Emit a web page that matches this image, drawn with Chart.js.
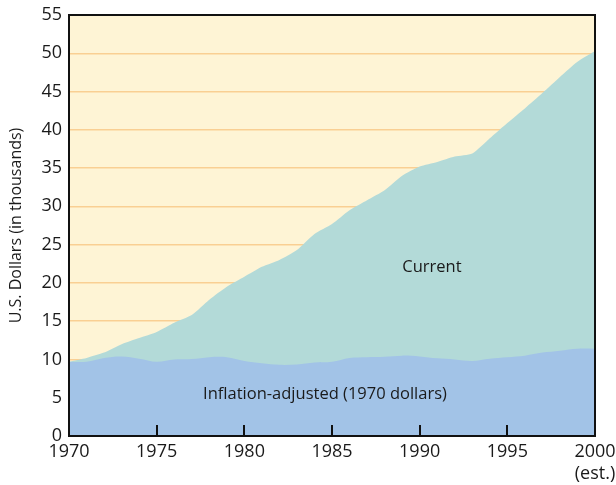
<!DOCTYPE html>
<html>
<head>
<meta charset="utf-8">
<script src="https://cdn.jsdelivr.net/npm/chart.js@4"></script>
<style>
  html, body { margin: 0; padding: 0; background: #fff; }
  #wrap { width: 616px; height: 485px; position: relative; }
</style>
</head>
<body>
<div id="wrap"><canvas id="graf" width="616" height="485"></canvas></div>
<script>
const years = [1970,1971,1972,1973,1974,1975,1976,1977,1978,1979,1980,1981,1982,1983,1984,1985,
               1986,1987,1988,1989,1990,1991,1992,1993,1994,1995,1996,1997,1998,1999,2000];
const current = [9.7,10.2,10.9,12.0,12.8,13.6,14.8,15.8,17.8,19.5,20.8,22.1,23.0,24.3,26.4,27.7,
                 29.5,30.8,32.1,34.0,35.2,35.8,36.5,36.9,38.9,40.9,42.8,44.8,46.9,48.9,50.3];
const adjusted = [9.7,9.7,10.2,10.4,10.1,9.7,10.0,10.05,10.3,10.3,9.8,9.5,9.3,9.35,9.6,9.7,
                  10.2,10.3,10.35,10.5,10.4,10.15,10.0,9.8,10.1,10.3,10.5,10.9,11.15,11.4,11.4];
const yTicks = [0,5,10,15,20,25,30,35,40,45,50,55];
const xTicks = [1970,1975,1980,1985,1990,1995,2000];
const areaLabels = [
  {text: 'Current', x: 1990.7, y: 22},
  {text: 'Inflation-adjusted (1970 dollars)', x: 1984.6, y: 5.4}
];

const FONT = "'Open Sans', 'DejaVu Sans', sans-serif";

const plotDeco = {
  id: 'plotDeco',
  beforeDraw(chart) {
    const {ctx, chartArea: a} = chart;
    ctx.save();
    ctx.fillStyle = '#fef4d5';
    ctx.fillRect(a.left, a.top, a.right - a.left, a.bottom - a.top);
    ctx.restore();
  },
  afterDatasetsDraw(chart) {
    const {ctx, chartArea: a, scales} = chart;
    ctx.save();
    // labels inside areas
    ctx.fillStyle = '#1a1a1a';
    ctx.font = "16.5px " + FONT;
    ctx.textAlign = 'center';
    ctx.textBaseline = 'middle';
    areaLabels.forEach(l => {
      ctx.fillText(l.text, scales.x.getPixelForValue(l.x), scales.y.getPixelForValue(l.y));
    });
    // inner tick marks on bottom axis
    ctx.strokeStyle = '#111';
    ctx.lineWidth = 2;
    xTicks.slice(1, -1).forEach(v => {
      const px = Math.round(scales.x.getPixelForValue(v));
      ctx.beginPath();
      ctx.moveTo(px, a.bottom);
      ctx.lineTo(px, a.bottom - 11);
      ctx.stroke();
    });
    // frame
    ctx.strokeRect(a.left, a.top, a.right - a.left, a.bottom - a.top);
    ctx.restore();
  }
};

document.addEventListener("DOMContentLoaded", () => {
  let cont = document.getElementById('graf').getContext('2d');
  let graf = new Chart(cont, {
    type: 'line',
    data: {
      datasets: [
        {
          label: 'Inflation-adjusted (1970 dollars)',
          data: years.map((y, i) => ({x: y, y: adjusted[i]})),
          backgroundColor: '#a2c3e7',
          borderWidth: 0,
          pointRadius: 0,
          tension: 0.35,
          fill: 'origin'
        },
        {
          label: 'Current',
          data: years.map((y, i) => ({x: y, y: current[i]})),
          backgroundColor: '#b3dad8',
          borderWidth: 0,
          pointRadius: 0,
          tension: 0.2,
          fill: 'origin'
        }
      ]
    },
    options: {
      responsive: false,
      animation: false,
      events: [],
      layout: { padding: { top: 15, right: 21, left: 0, bottom: 0 } },
      plugins: { legend: { display: false }, tooltip: { enabled: false } },
      scales: {
        x: {
          type: 'linear',
          min: 1970, max: 2000,
          afterBuildTicks: s => { s.ticks = xTicks.map(v => ({value: v})); },
          afterFit: s => { s.height = 49; s.paddingLeft = 0; s.paddingRight = 0; },
          border: { display: false },
          grid: { display: false, drawTicks: false },
          ticks: {
            padding: 5,
            color: '#1a1a1a',
            maxRotation: 0,
            autoSkip: false,
            font: { family: FONT, size: 18, lineHeight: 1.2 },
            callback: v => v === 2000 ? ['2000', '(est.)'] : String(v)
          }
        },
        y: {
          min: 0, max: 55,
          afterBuildTicks: s => { s.ticks = yTicks.map(v => ({value: v})); },
          afterFit: s => { s.width = 69; s.paddingTop = 0; s.paddingBottom = 0; },
          border: { display: false },
          grid: {
            drawTicks: false,
            lineWidth: 1.5,
            color: c => (c.tick.value === 0 || c.tick.value === 55) ? 'rgba(0,0,0,0)' : '#f9cf93'
          },
          ticks: {
            padding: 7,
            color: '#1a1a1a',
            font: { family: FONT, size: 18 }
          },
          title: {
            display: true,
            text: 'U.S. Dollars (in thousands)',
            color: '#1a1a1a',
            font: { family: FONT, size: 16 },
            padding: { top: 7, bottom: 0 }
          }
        }
      }
    },
    plugins: [plotDeco]
  });
});
</script>
</body>
</html>
